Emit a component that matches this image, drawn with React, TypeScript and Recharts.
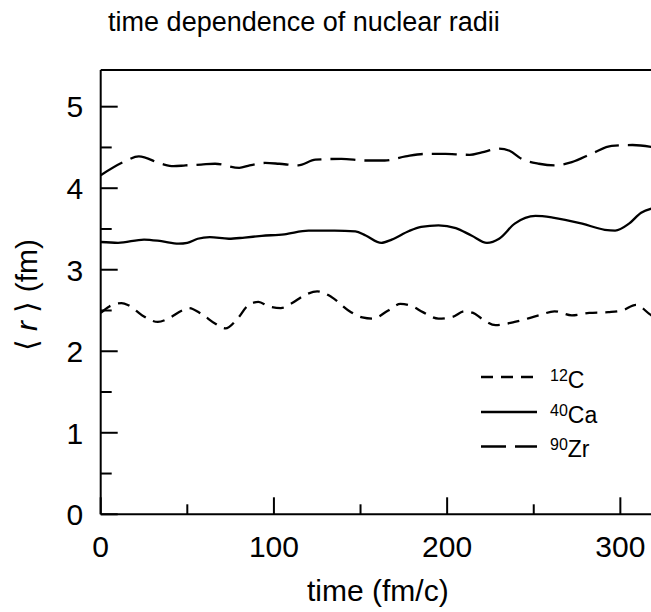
import React from "react";
import { LineChart, Line, XAxis, YAxis } from "recharts";

// time in fm/c, mean radius in fm
const c12Time = [0, 5, 12, 16, 24, 33, 39, 47, 51, 58, 66, 72, 79, 85, 91, 97, 104, 110, 118, 125, 133, 143, 151, 157, 166, 173, 180, 186, 195, 203, 210, 215, 220, 228, 239, 253, 262, 272, 282, 293, 301, 309, 318, 320];
const c12Radius = [2.47, 2.55, 2.59, 2.565, 2.44, 2.36, 2.4, 2.5, 2.53, 2.46, 2.34, 2.28, 2.4, 2.56, 2.605, 2.55, 2.53, 2.585, 2.69, 2.735, 2.67, 2.5, 2.415, 2.4, 2.5, 2.58, 2.55, 2.48, 2.4, 2.42, 2.49, 2.47, 2.4, 2.32, 2.36, 2.44, 2.49, 2.44, 2.47, 2.48, 2.5, 2.57, 2.44, 2.42];

const ca40Time = [0, 10, 25, 35, 45, 50, 56, 63, 74, 83, 93, 106, 120, 135, 147, 153, 162, 168, 178, 185, 195, 205, 214, 223, 230, 239, 251, 261, 278, 291, 297, 305, 312, 320];
const ca40Radius = [3.34, 3.33, 3.37, 3.35, 3.32, 3.33, 3.38, 3.4, 3.38, 3.395, 3.415, 3.435, 3.48, 3.48, 3.47, 3.42, 3.33, 3.37, 3.475, 3.525, 3.545, 3.51, 3.42, 3.33, 3.38, 3.565, 3.66, 3.64, 3.565, 3.49, 3.48, 3.565, 3.7, 3.76];

const zr90Time = [0, 14, 22, 35, 42, 49, 58, 66, 80, 86, 95, 103, 114, 124, 139, 153, 164, 176, 187, 199, 205, 213, 220, 230, 236, 243, 253, 262, 272, 284, 295, 307, 320];
const zr90Radius = [4.16, 4.33, 4.39, 4.3, 4.27, 4.28, 4.29, 4.3, 4.25, 4.28, 4.31, 4.3, 4.28, 4.35, 4.36, 4.34, 4.34, 4.39, 4.42, 4.42, 4.415, 4.41, 4.44, 4.485, 4.46, 4.36, 4.3, 4.28, 4.32, 4.43, 4.52, 4.53, 4.5];

const xTicks = [0, 50, 100, 150, 200, 250, 300];
const yTicks = [0, 0.5, 1, 1.5, 2, 2.5, 3, 3.5, 4, 4.5, 5];

const series = [
  { key: "c12", mass: "12", symbol: "C", time: c12Time, radius: c12Radius, dash: "12 8" },
  { key: "ca40", mass: "40", symbol: "Ca", time: ca40Time, radius: ca40Radius, dash: undefined },
  { key: "zr90", mass: "90", symbol: "Zr", time: zr90Time, radius: zr90Radius, dash: "25 9" },
];

const FONT = "'Liberation Sans', Arial, Helvetica, sans-serif";

const toPoints = (time: number[], radius: number[]) =>
  time.map((t, i) => ({ t, r: radius[i] }));

function LeftTick({ x, y, payload }: any) {
  const major = Number.isInteger(payload.value);
  return (
    <g>
      <line x1={x} x2={x + (major ? 17 : 11)} y1={y} y2={y} stroke="#000" strokeWidth={2} />
      {major && (
        <text x={x - 17.5} y={y} dy="0.36em" textAnchor="end" fontSize={30} fontFamily={FONT} fill="#000">
          {payload.value}
        </text>
      )}
    </g>
  );
}

function RightTick({ x, y, payload }: any) {
  const major = Number.isInteger(payload.value);
  return <line x1={x} x2={x - (major ? 17 : 11)} y1={y} y2={y} stroke="#000" strokeWidth={2} />;
}

function BottomTick({ x, y, payload }: any) {
  const major = payload.value % 100 === 0;
  return (
    <g>
      <line x1={x} x2={x} y1={y} y2={y - (major ? 17 : 10)} stroke="#000" strokeWidth={2} />
      {major && (
        <text x={x} y={y + 43} textAnchor="middle" fontSize={30} fontFamily={FONT} fill="#000">
          {payload.value}
        </text>
      )}
    </g>
  );
}

function TopTick({ x, y, payload }: any) {
  const major = payload.value % 100 === 0;
  return <line x1={x} x2={x} y1={y} y2={y + (major ? 17 : 10)} stroke="#000" strokeWidth={2} />;
}

export default function App() {
  const legendRows = [377, 412, 446.5];
  return (
    <div style={{ position: "absolute", left: 0, top: 0, width: 651, height: 612, overflow: "hidden", background: "#fff" }}>
      <div
        style={{
          position: "absolute",
          left: 0,
          top: 9,
          width: 608,
          textAlign: "center",
          fontFamily: FONT,
          fontSize: 27,
          lineHeight: "27px",
          color: "#000",
        }}
      >
        time dependence of nuclear radii
      </div>
      <LineChart width={660} height={612} margin={{ top: 69, right: 4, bottom: 96.7, left: 99.7 }}>
        <XAxis
          xAxisId="bottom"
          type="number"
          dataKey="t"
          domain={[0, 320]}
          ticks={xTicks}
          height={1}
          tickSize={0}
          tickMargin={0}
          tickLine={false}
          axisLine={{ stroke: "#000", strokeWidth: 2 }}
          tick={<BottomTick />}
          interval={0}
          allowDataOverflow
          label={({ viewBox }: any) => (
            <text
              x={viewBox.x + viewBox.width / 2}
              y={viewBox.y + 87}
              textAnchor="middle"
              fontSize={30}
              fontFamily={FONT}
              fill="#000"
            >
              time (fm/c)
            </text>
          )}
        />
        <XAxis
          xAxisId="top"
          orientation="top"
          type="number"
          domain={[0, 320]}
          ticks={xTicks}
          height={1}
          tickSize={0}
          tickMargin={0}
          tickLine={false}
          axisLine={{ stroke: "#000", strokeWidth: 2 }}
          tick={<TopTick />}
          interval={0}
        />
        <YAxis
          yAxisId="left"
          type="number"
          domain={[0, 5.45]}
          ticks={yTicks}
          width={1}
          tickSize={0}
          tickMargin={0}
          tickLine={false}
          axisLine={{ stroke: "#000", strokeWidth: 2 }}
          tick={<LeftTick />}
          interval={0}
          allowDataOverflow
          label={({ viewBox }: any) => (
            <text
              transform={`translate(36.5, ${viewBox.y + viewBox.height / 2 + 3}) rotate(-90)`}
              textAnchor="middle"
              fontSize={30}
              fontFamily={FONT}
              fill="#000"
            >
              {"\u27E8 "}
              <tspan fontStyle="italic">r</tspan>
              {" \u27E9 (fm)"}
            </text>
          )}
        />
        <YAxis
          yAxisId="right"
          orientation="right"
          type="number"
          domain={[0, 5.45]}
          ticks={yTicks}
          width={1}
          tickSize={0}
          tickMargin={0}
          tickLine={false}
          axisLine={{ stroke: "#000", strokeWidth: 2 }}
          tick={<RightTick />}
          interval={0}
        />
        {series.map((s) => (
          <Line
            key={s.key}
            xAxisId="bottom"
            yAxisId="left"
            data={toPoints(s.time, s.radius)}
            dataKey="r"
            type="monotone"
            stroke="#000"
            strokeWidth={2.3}
            strokeDasharray={s.dash}
            dot={false}
            activeDot={false}
            isAnimationActive={false}
          />
        ))}
      </LineChart>
      <svg width={651} height={612} style={{ position: "absolute", left: 0, top: 0, pointerEvents: "none" }}>
        {series.map((s, i) => (
          <g key={s.key}>
            <line x1={481} x2={537} y1={legendRows[i]} y2={legendRows[i]} stroke="#000" strokeWidth={2.3} strokeDasharray={s.dash} />
            <text x={550} y={legendRows[i] + 10.5} fontFamily={FONT} fill="#000">
              <tspan fontSize={16} dy={-7}>{s.mass}</tspan>
              <tspan fontSize={23} dy={7}>{s.symbol}</tspan>
            </text>
          </g>
        ))}
      </svg>
    </div>
  );
}
